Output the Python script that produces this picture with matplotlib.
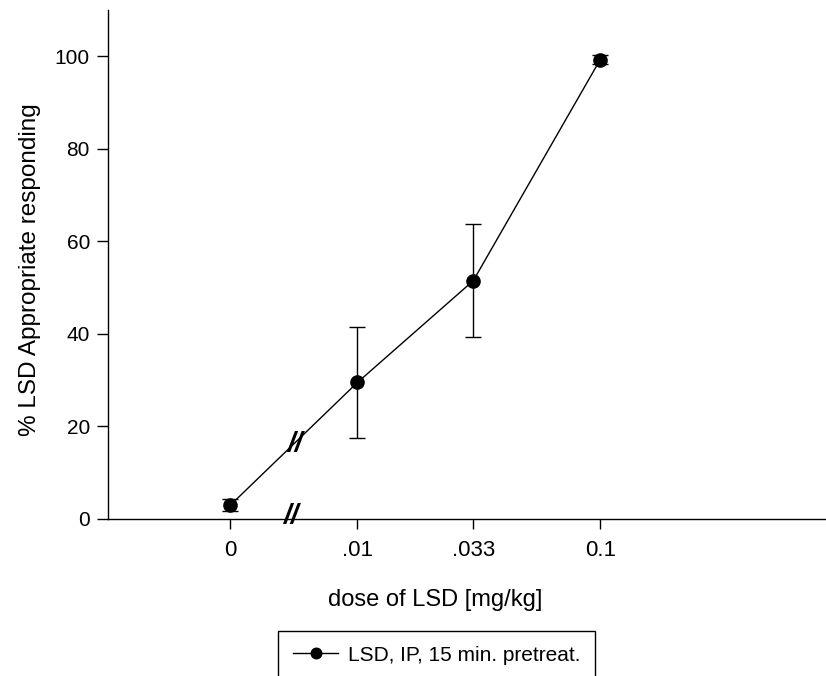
import numpy as np
import matplotlib
matplotlib.use("Agg")
import matplotlib.pyplot as plt
from matplotlib.ticker import NullLocator, FixedLocator, FixedFormatter

# dose axis is log scaled, the "0" dose sits left of the axis break at 0.003
dose_pos = [0.003, 0.01, 0.03, 0.1]
dose_labels = ["0", ".01", ".033", "0.1"]
pct_lsd = [3.0, 29.5, 51.5, 99.3]
sem = [1.3, 12.0, 12.2, 0.9]

plt.rcParams["font.family"] = ["Liberation Sans", "DejaVu Sans"]

fig = plt.figure(figsize=(8.26, 6.76), dpi=100)
W, H = 826, 676
ax = fig.add_axes([108 / W, 1 - 519 / H, (826 - 108) / W, (519 - 10) / H])

ax.errorbar(dose_pos, pct_lsd, yerr=sem, fmt="none", ecolor="black",
            elinewidth=1.0, capsize=6, capthick=1.0)
ax.plot(dose_pos, pct_lsd, color="black", marker="o", markersize=9.5,
        linewidth=1.0, label="LSD, IP, 15 min. pretreat.")

ax.set_xscale("log")
ax.set_xlim(0.00094, 0.85)
ax.set_ylim(0, 110)
ax.xaxis.set_major_locator(FixedLocator(dose_pos))
ax.xaxis.set_major_formatter(FixedFormatter(dose_labels))
ax.xaxis.set_minor_locator(NullLocator())
ax.set_yticks([0, 20, 40, 60, 80, 100])

for side in ["top", "right"]:
    ax.spines[side].set_visible(False)
for side in ["left", "bottom"]:
    ax.spines[side].set_linewidth(1.0)

ax.tick_params(axis="y", direction="out", length=8, width=1.0, labelsize=15, pad=5)
ax.tick_params(axis="x", direction="out", length=7, width=1.0, labelsize=16, pad=8)

ax.set_ylabel("% LSD Appropriate responding", fontsize=17.5)
ax.yaxis.set_label_coords(-0.094, 0.49)
ax.set_xlabel("dose of LSD [mg/kg]", fontsize=17, va="center")
ax.xaxis.set_label_coords(0.455, -0.159)

# axis break marks
ax.text(0.0053, 0.65, "//", fontsize=20, fontweight="bold", style="italic",
        ha="center", va="center")
ax.text(0.0055, 16.2, "//", fontsize=20, fontweight="bold", style="italic",
        ha="center", va="center")

leg = fig.legend(loc="upper left", bbox_to_anchor=(278 / W, 1 - 631 / H),
                 fontsize=15, frameon=True, fancybox=False, borderpad=0.7,
                 handlelength=2.2, handletextpad=0.45, borderaxespad=0,
                 markerscale=0.8)
leg.get_frame().set_edgecolor("black")
leg.get_frame().set_linewidth(1.0)
leg.get_frame().set_alpha(1.0)

fig.savefig("out.png", dpi=100)
